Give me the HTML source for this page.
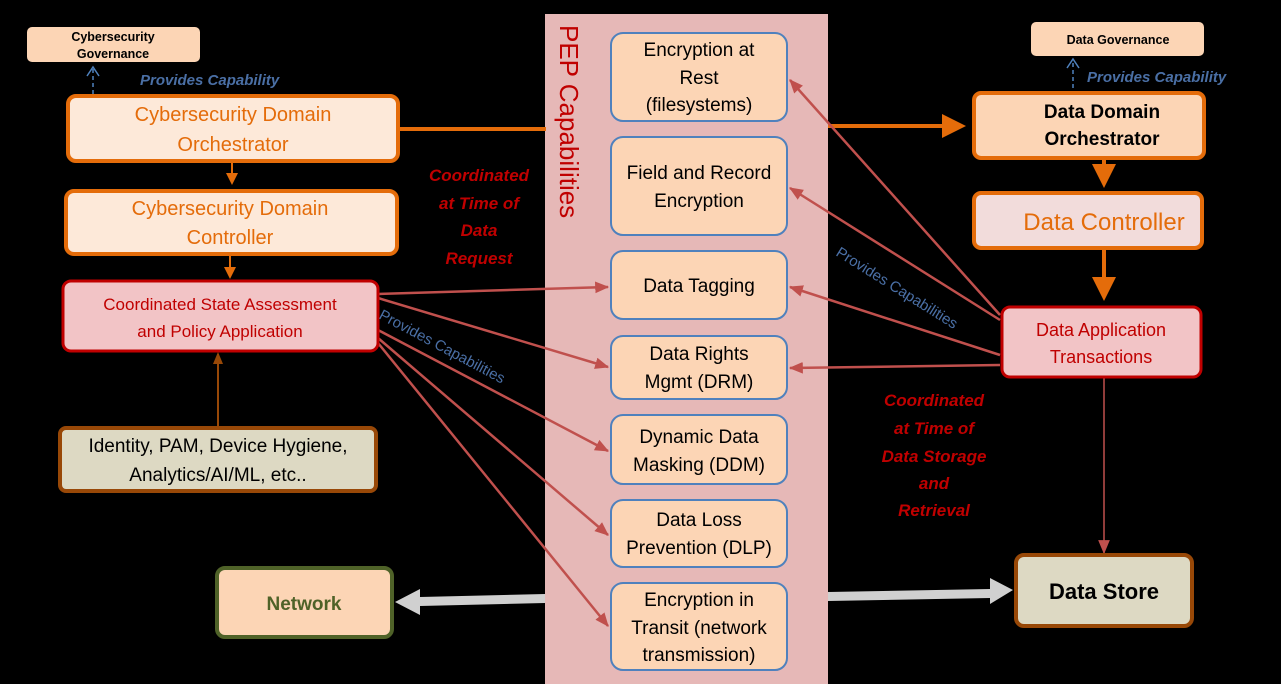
<!DOCTYPE html>
<html><head><meta charset="utf-8"><style>
html,body{margin:0;padding:0;background:#000;}
svg{display:block;font-family:"Liberation Sans",sans-serif;}
</style></head><body>
<svg width="1281" height="684" viewBox="0 0 1281 684" xmlns="http://www.w3.org/2000/svg">
<defs>
<marker id="ao" markerWidth="6" markerHeight="6" refX="5" refY="3" orient="auto" markerUnits="strokeWidth"><path d="M0,0 L6,3 L0,6 z" fill="#e46c0a"/></marker>
<marker id="ar" markerWidth="8" markerHeight="8" refX="7" refY="4" orient="auto" markerUnits="userSpaceOnUse"><path d="M0,0 L12,4 L0,8 z" fill="#c0504d"/></marker>
<marker id="arr" viewBox="0 0 12 10" markerWidth="14" markerHeight="12" refX="11" refY="5" orient="auto" markerUnits="userSpaceOnUse"><path d="M0,0 L12,5 L0,10 z" fill="#c0504d"/></marker>
<marker id="ab" markerWidth="12" markerHeight="12" refX="1" refY="6" orient="auto" markerUnits="userSpaceOnUse"><path d="M11,1 L1,6 L11,11" fill="none" stroke="#4f81bd" stroke-width="1.5"/></marker>
<marker id="abr" markerWidth="12" markerHeight="10" refX="10" refY="5" orient="auto" markerUnits="userSpaceOnUse"><path d="M0,0 L12,5 L0,10 z" fill="#984807"/></marker>
</defs>

<!-- PEP band -->
<rect x="545" y="14" width="283" height="670" fill="#e6b8b7"/>
<text transform="translate(560,25) rotate(90)" font-size="26" fill="#c00000">PEP Capabilities</text>

<!-- orange main line -->
<line x1="398" y1="129" x2="546" y2="129" stroke="#e46c0a" stroke-width="4"/>
<line x1="828" y1="126" x2="962" y2="126" stroke="#e46c0a" stroke-width="4" marker-end="url(#ao)"/>

<!-- Cyber governance -->
<rect x="27" y="27" width="173" height="35" rx="5" fill="#fcd5b5"/>
<text x="113" y="41" font-size="12.5" font-weight="bold" text-anchor="middle">Cybersecurity</text>
<text x="113" y="58" font-size="12.5" font-weight="bold" text-anchor="middle">Governance</text>
<line x1="93" y1="94" x2="93" y2="68" stroke="#4f81bd" stroke-width="1.5" stroke-dasharray="4,3" transform="translate(0,0)" />
<path d="M87,76 L93,67 L99,76" fill="none" stroke="#4f81bd" stroke-width="1.5"/>
<text x="140" y="85" font-size="15" font-weight="bold" font-style="italic" fill="#4a6fa5">Provides Capability</text>

<!-- Cyber orchestrator -->
<rect x="68" y="96" width="330" height="65" rx="8" fill="#fde9d9" stroke="#e46c0a" stroke-width="4"/>
<text x="233" y="121" font-size="20" fill="#e46c0a" text-anchor="middle">Cybersecurity Domain</text>
<text x="233" y="151" font-size="20" fill="#e46c0a" text-anchor="middle">Orchestrator</text>
<line x1="232" y1="162" x2="232" y2="183" stroke="#e46c0a" stroke-width="2" marker-end="url(#ao)"/>

<rect x="66" y="191" width="331" height="63" rx="8" fill="#fde9d9" stroke="#e46c0a" stroke-width="4"/>
<text x="230" y="215" font-size="20" fill="#e46c0a" text-anchor="middle">Cybersecurity Domain</text>
<text x="230" y="244" font-size="20" fill="#e46c0a" text-anchor="middle">Controller</text>
<line x1="230" y1="255" x2="230" y2="277" stroke="#e46c0a" stroke-width="2" marker-end="url(#ao)"/>

<!-- red connectors left -->
<g stroke="#c0504d" stroke-width="2.5" fill="none">
<line x1="378" y1="294" x2="608" y2="287" marker-end="url(#arr)"/>
<line x1="378" y1="298" x2="608" y2="367" marker-end="url(#arr)"/>
<line x1="378" y1="330" x2="608" y2="451" marker-end="url(#arr)"/>
<line x1="378" y1="338" x2="608" y2="535" marker-end="url(#arr)"/>
<line x1="378" y1="343" x2="608" y2="626" marker-end="url(#arr)"/>
<line x1="1000" y1="315" x2="790" y2="80" marker-end="url(#arr)"/>
<line x1="1000" y1="320" x2="790" y2="188" marker-end="url(#arr)"/>
<line x1="1000" y1="355" x2="790" y2="287" marker-end="url(#arr)"/>
<line x1="1000" y1="365" x2="790" y2="368" marker-end="url(#arr)"/>
<line x1="1104" y1="377" x2="1104" y2="553" stroke-width="1.5" marker-end="url(#arr)"/>
</g>

<rect x="63" y="281" width="315" height="70" rx="8" fill="#f2c4c6" stroke="#c00000" stroke-width="3"/>
<text x="220" y="310" font-size="17" fill="#c00000" text-anchor="middle">Coordinated State Assessment</text>
<text x="220" y="337" font-size="17" fill="#c00000" text-anchor="middle">and Policy Application</text>

<text transform="translate(378,318) rotate(28)" font-size="15" fill="#4a6fa5">Provides Capabilities</text>
<text transform="translate(835,255) rotate(32)" font-size="15" fill="#4a6fa5">Provides Capabilities</text>

<g font-size="17" font-weight="bold" font-style="italic" fill="#c00000" text-anchor="middle">
<text x="479" y="181">Coordinated</text>
<text x="479" y="209">at Time of</text>
<text x="479" y="236">Data</text>
<text x="479" y="264">Request</text>
<text x="934" y="406">Coordinated</text>
<text x="934" y="434">at Time of</text>
<text x="934" y="462">Data Storage</text>
<text x="934" y="489">and</text>
<text x="934" y="516">Retrieval</text>
</g>

<!-- identity -->
<line x1="218" y1="427" x2="218" y2="354" stroke="#984807" stroke-width="2" marker-end="url(#abr)"/>
<rect x="60" y="428" width="316" height="63" rx="6" fill="#ddd9c3" stroke="#984807" stroke-width="4"/>
<text x="218" y="452" font-size="19" text-anchor="middle">Identity, PAM, Device Hygiene,</text>
<text x="218" y="481" font-size="19" text-anchor="middle">Analytics/AI/ML, etc..</text>

<!-- PEP boxes -->
<g fill="#fcd5b5" stroke="#4f81bd" stroke-width="2">
<rect x="611" y="33" width="176" height="88" rx="12"/>
<rect x="611" y="137" width="176" height="98" rx="12"/>
<rect x="611" y="251" width="176" height="68" rx="12"/>
<rect x="611" y="336" width="176" height="63" rx="12"/>
<rect x="611" y="415" width="176" height="69" rx="12"/>
<rect x="611" y="500" width="176" height="67" rx="12"/>
<rect x="611" y="583" width="176" height="87" rx="12"/>
</g>
<g font-size="19" text-anchor="middle" fill="#000">
<text x="699" y="56">Encryption at</text>
<text x="699" y="84">Rest</text>
<text x="699" y="111">(filesystems)</text>
<text x="699" y="179">Field and Record</text>
<text x="699" y="207">Encryption</text>
<text x="699" y="292">Data Tagging</text>
<text x="699" y="360">Data Rights</text>
<text x="699" y="388">Mgmt (DRM)</text>
<text x="699" y="443">Dynamic Data</text>
<text x="699" y="471">Masking (DDM)</text>
<text x="699" y="526">Data Loss</text>
<text x="699" y="554">Prevention (DLP)</text>
<text x="699" y="606">Encryption in</text>
<text x="699" y="634">Transit (network</text>
<text x="699" y="661">transmission)</text>
</g>

<!-- right side -->
<rect x="1031" y="22" width="173" height="34" rx="5" fill="#fcd5b5"/>
<text x="1118" y="44" font-size="12.5" font-weight="bold" text-anchor="middle">Data Governance</text>
<line x1="1073" y1="88" x2="1073" y2="60" stroke="#4f81bd" stroke-width="1.5" stroke-dasharray="4,3"/>
<path d="M1067,68 L1073,59 L1079,68" fill="none" stroke="#4f81bd" stroke-width="1.5"/>
<text x="1087" y="82" font-size="15" font-weight="bold" font-style="italic" fill="#4a6fa5">Provides Capability</text>

<rect x="974" y="93" width="230" height="65" rx="7" fill="#fcd5b5" stroke="#e46c0a" stroke-width="4"/>
<text x="1102" y="118" font-size="19" font-weight="bold" text-anchor="middle">Data Domain</text>
<text x="1102" y="145" font-size="19" font-weight="bold" text-anchor="middle">Orchestrator</text>
<line x1="1104" y1="159" x2="1104" y2="184" stroke="#e46c0a" stroke-width="4" marker-end="url(#ao)"/>

<rect x="974" y="193" width="228" height="55" rx="7" fill="#f2dcdb" stroke="#e46c0a" stroke-width="4"/>
<text x="1104" y="230" font-size="24" fill="#e46c0a" text-anchor="middle">Data Controller</text>
<line x1="1104" y1="249" x2="1104" y2="297" stroke="#e46c0a" stroke-width="4" marker-end="url(#ao)"/>

<rect x="1002" y="307" width="199" height="70" rx="8" fill="#f2c4c6" stroke="#c00000" stroke-width="3"/>
<text x="1101" y="336" font-size="18" fill="#c00000" text-anchor="middle">Data Application</text>
<text x="1101" y="363" font-size="18" fill="#c00000" text-anchor="middle">Transactions</text>

<!-- gray arrows -->
<path d="M545,594 L420,597 L420,589 L395,602 L420,615 L420,606 L545,603 z" fill="#d0d0d0"/>
<path d="M828,592 L990,589 L990,578 L1013,590 L990,604 L990,598 L828,601 z" fill="#d0d0d0"/>

<rect x="1016" y="555" width="176" height="71" rx="8" fill="#ddd9c3" stroke="#984807" stroke-width="4"/>
<text x="1104" y="599" font-size="22" font-weight="bold" text-anchor="middle">Data Store</text>

<rect x="217" y="568" width="175" height="69" rx="8" fill="#fcd5b5" stroke="#4f6228" stroke-width="4"/>
<text x="304" y="610" font-size="19" font-weight="bold" fill="#4f6228" text-anchor="middle">Network</text>
</svg>
</body></html>
